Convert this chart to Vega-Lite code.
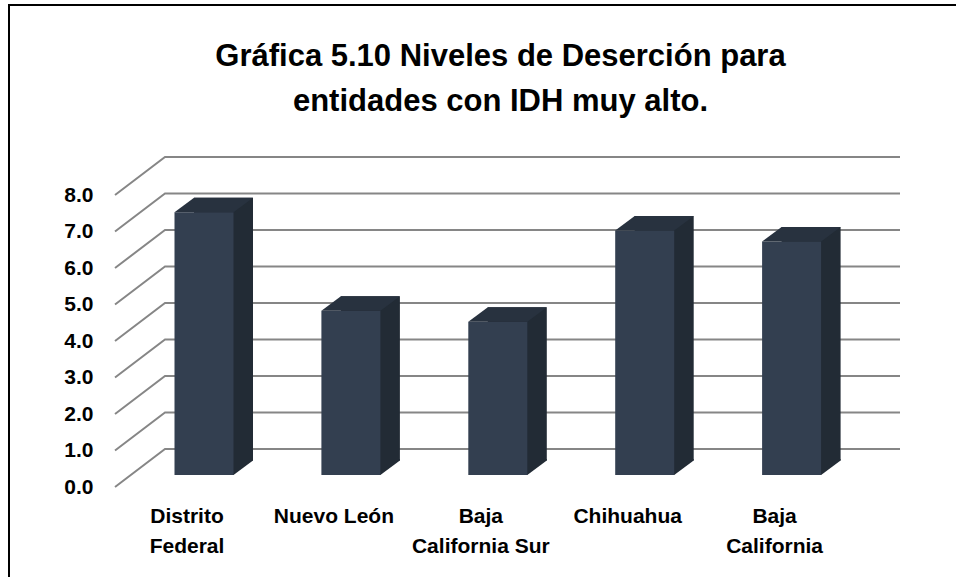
{
"$schema":"https://vega.github.io/schema/vega-lite/v6.json",
"width":949,"height":574,
"autosize":{"type":"none"},
"padding":{"left":9,"top":5,"right":-2,"bottom":-2},
"background":"white",
"view":{"stroke":"#000000","strokeWidth":2,"fill":null},
"config":{"view":{"stroke":"#000000","strokeWidth":2}},
"title":{"text":["Gráfica 5.10 Niveles de Deserción para","entidades con IDH muy alto."],"anchor":"middle","frame":"group","orient":"top","font":"Liberation Sans","fontWeight":"bold","fontSize":31,"lineHeight":45,"color":"#000000","dx":17,"offset":-113,"baseline":"top"},
"datasets":{
"bars":[{"entidad":"Distrito Federal","desercion":7.2},{"entidad":"Nuevo León","desercion":4.5},{"entidad":"Baja California Sur","desercion":4.2},{"entidad":"Chihuahua","desercion":6.7},{"entidad":"Baja California","desercion":6.4}],
"ticks":[{"t":0},{"t":1},{"t":2},{"t":3},{"t":4},{"t":5},{"t":6},{"t":7},{"t":8}]
},
"layer":[
{"data":{"name":"ticks"},
 "mark":{"type":"point","shape":"M-368.5,0L-318.5,-38L416.5,-38","size":4,"filled":false,"opacity":1,"stroke":"#868686","strokeWidth":2,"fill":null},
 "encoding":{"y":{"field":"t","type":"quantitative","scale":{"domain":[0,8],"range":[482,190]},
   "axis":{"values":[0,1,2,3,4,5,6,7,8],"format":".1f","offset":-106,"labelPadding":22,"ticks":false,"domain":false,"grid":false,"title":null,"labelFont":"Liberation Sans","labelFontWeight":"bold","labelFontSize":21,"labelColor":"#000000"}}}},
{"data":{"name":"bars"},
 "mark":{"type":"bar","width":59,"xOffset":35.5,"yOffset":-26.5,"fill":"#222b35"},
 "encoding":{
  "x":{"field":"entidad","type":"nominal","sort":null,"scale":{"domain":["Distrito Federal","Nuevo León","Baja California Sur","Chihuahua","Baja California"],"range":[105.55,840.05],"paddingInner":0,"paddingOuter":0},
    "axis":{"orient":"bottom","offset":-74,"labelPadding":0,"labelOffset":-1,"ticks":false,"domain":false,"grid":false,"title":null,"labelAngle":0,"labelAlign":"center","labelBaseline":"top","labelFont":"Liberation Sans","labelFontWeight":"bold","labelFontSize":21,"labelColor":"#000000","labelLimit":300,"labelLineHeight":30.5,"labelExpr":"datum.value=='Nuevo León'||datum.value=='Chihuahua'?datum.value:datum.value=='Baja California Sur'?['Baja','California Sur']:split(datum.value,' ')"}},
  "y":{"field":"desercion","type":"quantitative"}}},
{"data":{"name":"bars"},
 "mark":{"type":"point","shape":"M28,0L28,-16L49,-16L49,-14.5L29.5,0Z","size":4,"filled":true,"opacity":1,"fill":"#222b35","strokeWidth":0,"xOffset":16,"yOffset":-12},
 "encoding":{"x":{"field":"entidad","type":"nominal","sort":null},"y":{"datum":0}}},
{"data":{"name":"bars"},
 "mark":{"type":"bar","width":59,"xOffset":16,"yOffset":-12,"fill":"#333f50"},
 "encoding":{"x":{"field":"entidad","type":"nominal","sort":null},"y":{"field":"desercion","type":"quantitative"}}},
{"data":{"name":"bars"},
 "mark":{"type":"point","shape":"M-29.5,0L29.5,0L49,-14.5L-10,-14.5Z","size":4,"filled":true,"opacity":1,"fill":"#28323f","strokeWidth":0,"xOffset":16,"yOffset":-12},
 "encoding":{"x":{"field":"entidad","type":"nominal","sort":null},"y":{"field":"desercion","type":"quantitative"}}}
]
}
